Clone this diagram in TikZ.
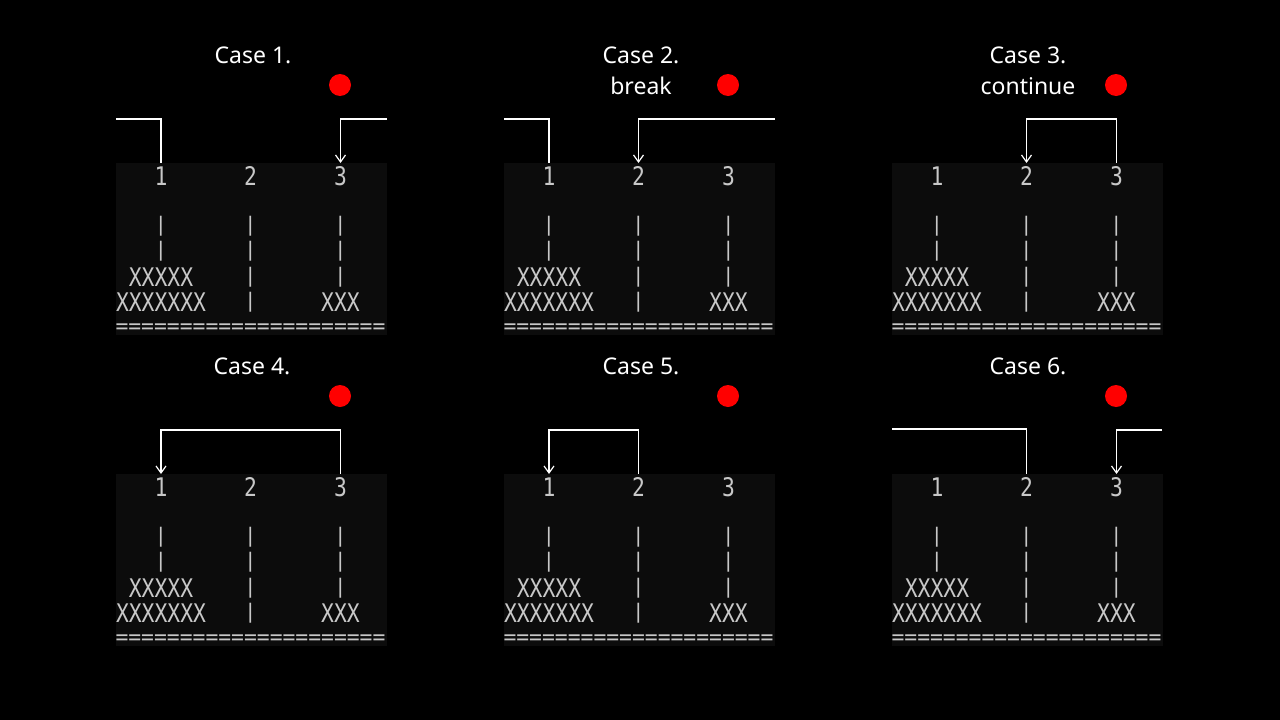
\documentclass[tikz,border=0pt]{standalone}
\usepackage{fontspec}
\setmainfont{Noto Sans}
\newfontfamily\termfont{DejaVu Sans Mono}
\usetikzlibrary{arrows.meta}

\definecolor{termbg}{RGB}{12,12,12}
\definecolor{termfg}{RGB}{200,200,200}
\newcommand{\termtxt}[1]{\scalebox{1}[1.2]{#1}}

\begin{document}
\begin{tikzpicture}[x=1pt, y=-1pt,
		term/.style={fill=termbg, minimum width=271pt, minimum height=172pt, inner sep=0pt, anchor=north west},
		mono/.style={text=termfg, inner sep=0pt, font=\termfont\fontsize{21.35}{22}\selectfont},
		pole/.style={mono, font=\termfont\fontsize{20}{22}\selectfont},
		title/.style={text=white, inner sep=0pt, font=\fontsize{23}{27}\selectfont},
		dot/.style={circle, fill=red, minimum size=22pt, inner sep=0pt},
		link/.style={draw=white, line width=1.2pt},
		tip/.style={-{Straight Barb[length=7pt, width=10pt]}}]
		\fill[black] (0,0) rectangle (1280,720);
		% terminal screenshots
		\foreach \i/\px/\py in {1/116/163, 2/504/163, 3/892/163, 4/116/474, 5/504/474, 6/892/474} {
			\node[term] (term\i) at (\px,\py) {};
			\node[mono] (d\i-1) at (\px+45,\py+13) {\termtxt{1}};
			\node[mono] (d\i-2) at (\px+134.5,\py+13) {\termtxt{2}};
			\node[mono] (d\i-3) at (\px+224.5,\py+13) {\termtxt{3}};
			\node[pole] at (\px+45,\py+63.5) {|};
			\node[pole] at (\px+45,\py+88.5) {|};
			\node[mono] at (\px+45,\py+114) {\termtxt{XXXXX}};
			\node[mono] at (\px+45,\py+139) {\termtxt{XXXXXXX}};
			\node[pole] at (\px+134.5,\py+63.5) {|};
			\node[pole] at (\px+134.5,\py+88.5) {|};
			\node[pole] at (\px+134.5,\py+114) {|};
			\node[pole] at (\px+134.5,\py+139) {|};
			\node[pole] at (\px+224.5,\py+63.5) {|};
			\node[pole] at (\px+224.5,\py+88.5) {|};
			\node[pole] at (\px+224.5,\py+114) {|};
			\node[mono] at (\px+224.5,\py+139) {\termtxt{XXX}};
			\node[mono] at (\px+134.5,\py+166) {=====================};
		}
		% titles
		\node[title] (case1) at (253,55) {Case 1.};
		\node[title] (case2) at (641,55) {Case 2.};
		\node[title] (brk) at (641,86) {break};
		\node[title] (case3) at (1028,55) {Case 3.};
		\node[title] (cont) at (1028,86) {continue};
		\node[title] (case4) at (252,366) {Case 4.};
		\node[title] (case5) at (641,366) {Case 5.};
		\node[title] (case6) at (1028,366) {Case 6.};
		% red dots
		\node[dot] (dot1) at (340,85) {};
		\node[dot] (dot2) at (728,85) {};
		\node[dot] (dot3) at (1116,85) {};
		\node[dot] (dot4) at (340,396) {};
		\node[dot] (dot5) at (728,396) {};
		\node[dot] (dot6) at (1116,396) {};
		% moves
		\coordinate (in1) at (116,119);
		\coordinate (out1) at (387,119);
		\draw[link] (in1) -| (d1-1 |- term1.north);
		\draw[link, tip] (out1) -| (d1-3 |- term1.north);
		\coordinate (in2) at (504,119);
		\coordinate (out2) at (775,119);
		\draw[link] (in2) -| (d2-1 |- term2.north);
		\draw[link, tip] (out2) -| (d2-2 |- term2.north);
		\draw[link, tip] (d3-3 |- term3.north) -- ++(0,-44) -| (d3-2 |- term3.north);
		\draw[link, tip] (d4-3 |- term4.north) -- ++(0,-44) -| (d4-1 |- term4.north);
		\draw[link, tip] (d5-2 |- term5.north) -- ++(0,-44) -| (d5-1 |- term5.north);
		\coordinate (in6) at (892,429);
		\coordinate (out6) at (1162,430);
		\draw[link] (in6) -| (d6-2 |- term6.north);
		\draw[link, tip] (out6) -| (d6-3 |- term6.north);
\end{tikzpicture}
\end{document}
